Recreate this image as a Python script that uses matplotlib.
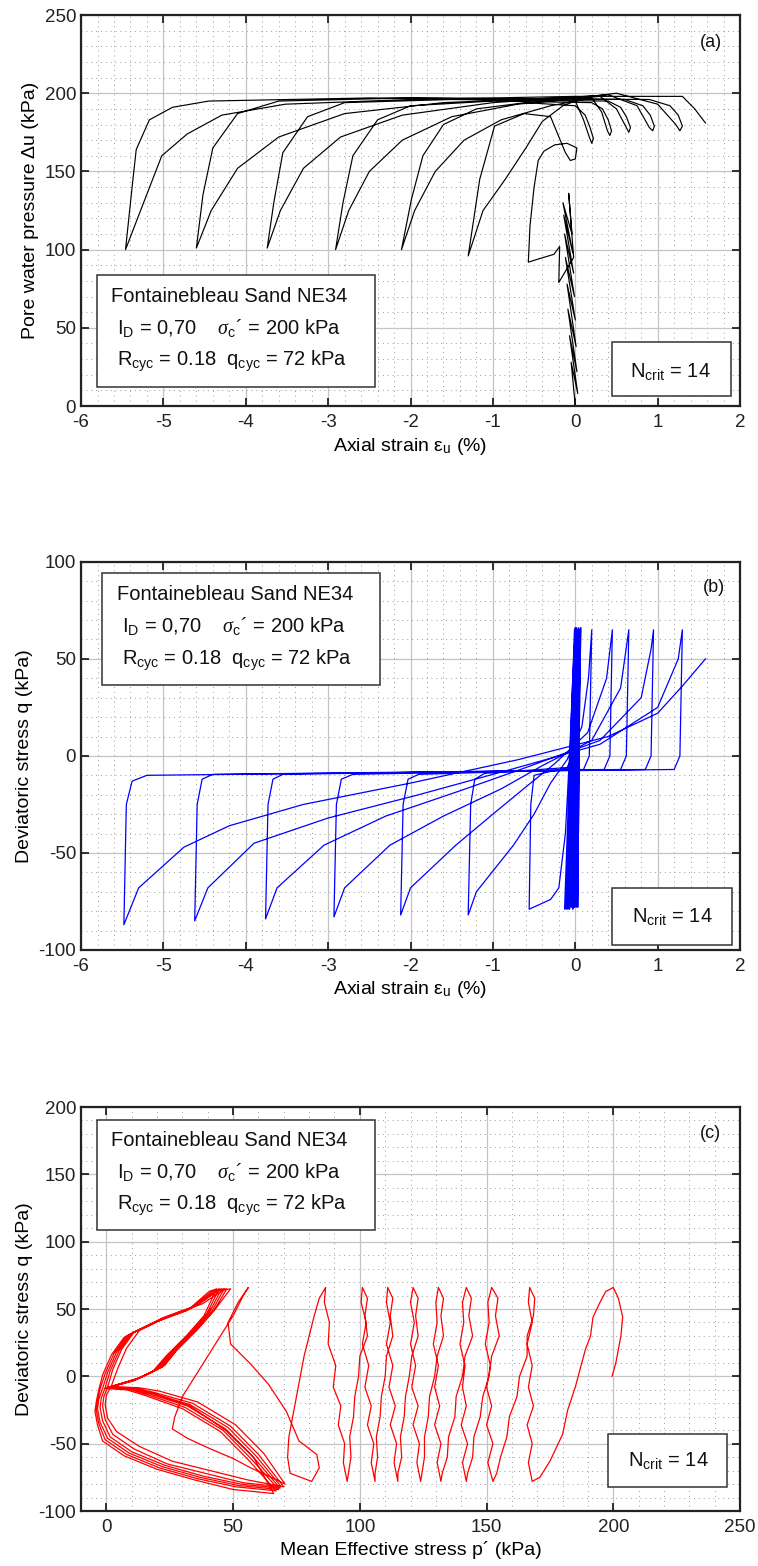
import matplotlib
matplotlib.use('Agg')
import matplotlib.pyplot as plt
from matplotlib.patches import Rectangle
from matplotlib.ticker import MultipleLocator

plt.rcParams['font.family'] = ['Liberation Sans', 'DejaVu Sans']
plt.rcParams['mathtext.fontset'] = 'custom'
plt.rcParams['mathtext.rm'] = 'Liberation Sans'
plt.rcParams['mathtext.it'] = 'Liberation Serif:italic'
plt.rcParams['mathtext.bf'] = 'Liberation Sans:bold'
plt.rcParams['axes.unicode_minus'] = False

# ---------------- data ----------------
# (a) pore pressure vs axial strain : first cycles near eps = 0
a_band_eps = [0.0, -0.05, 0.03, -0.07, 0.02, -0.09, 0.01, -0.10, 0.0, -0.12, -0.01, -0.13,
              -0.02, -0.14, -0.03, -0.15, -0.04, -0.08]
a_band_du = [0, 28, 8, 45, 22, 62, 38, 78, 55, 95, 70, 110, 85, 122, 98, 130, 110, 136]

# (a) large cycles: arrival at extension trough, then departure to compression peak
a_cyc_eps = [
    [-0.08, -0.02, -0.20, -0.19, -0.26, -0.45, -0.57, -0.55, -0.50, -0.45, -0.38, -0.25, -0.10, 0.02, 0.00, -0.06, -0.12],
    [-0.12, -0.30, -0.62, -0.98, -1.16, -1.30, -1.12, -0.85, -0.60, -0.40, -0.15, 0.00, 0.10, 0.17, 0.20, 0.22, 0.18, 0.12, 0.00],
    [0.00, -0.60, -1.20, -1.60, -1.85, -1.99, -2.11, -1.95, -1.70, -1.35, -0.90, -0.30, 0.20, 0.32, 0.39, 0.42, 0.44, 0.40, 0.33, 0.20],
    [0.20, -1.00, -2.00, -2.40, -2.70, -2.82, -2.91, -2.75, -2.50, -2.10, -1.50, -0.70, 0.30, 0.50, 0.62, 0.65, 0.67, 0.62, 0.55, 0.40],
    [0.40, -1.50, -2.80, -3.25, -3.55, -3.66, -3.74, -3.58, -3.30, -2.85, -2.10, -1.00, 0.40, 0.75, 0.90, 0.94, 0.96, 0.91, 0.82, 0.60],
    [0.60, -2.00, -3.60, -4.10, -4.40, -4.52, -4.60, -4.42, -4.10, -3.60, -2.80, -1.60, 0.20, 0.50, 1.00, 1.22, 1.27, 1.30, 1.25, 1.15, 0.90],
    [0.90, -2.50, -4.45, -4.89, -5.17, -5.33, -5.38, -5.46, -5.27, -5.02, -4.71, -4.29, -3.52, -2.00, 0.00, 1.30, 1.45, 1.58],
]
a_cyc_du = [
    [136, 95, 79, 102, 97, 94, 92, 115, 140, 157, 163, 167, 168, 165, 158, 157, 162],
    [162, 185, 187, 179, 145, 96, 125, 145, 165, 182, 192, 195, 183, 172, 168, 171, 178, 186, 192],
    [192, 194, 190, 180, 160, 132, 100, 125, 150, 170, 183, 192, 197, 188, 176, 173, 176, 183, 190, 194],
    [194, 195, 192, 183, 160, 130, 100, 125, 150, 170, 185, 193, 198, 190, 178, 175, 178, 185, 191, 195],
    [195, 196, 194, 185, 162, 130, 101, 125, 152, 172, 186, 194, 199, 192, 178, 176, 179, 186, 192, 196],
    [196, 197, 195, 187, 165, 135, 101, 125, 152, 172, 187, 194, 198, 200, 193, 180, 176, 179, 186, 192, 196],
    [196, 197, 195, 191, 183, 164, 140, 100, 126, 160, 174, 186, 193, 196, 198, 198, 190, 181],
]

# (b) deviatoric stress vs axial strain
b_band_eps = [0.00, 0.06, 0.03, 0.06, 0.01, 0.05, -0.01, 0.04, -0.03, 0.03, -0.05, 0.02,
              -0.07, 0.01, -0.09, 0.00, -0.11, -0.01, -0.13, 0.07]
b_band_q = [0, 65, -78, 66, -78, 65, -78, 66, -79, 65, -78, 66, -79, 66, -79, 66, -79, 65, -79, 66]

b_cyc_eps = [
    [0.07, 0.03, -0.05, -0.30, -0.50, -0.54, -0.56, -0.30, -0.20, -0.12, -0.07, -0.03, 0.00],
    [0.00, -0.03, -0.10, -1.10, -1.22, -1.27, -1.30, -1.20, -0.75, -0.50, -0.30, -0.10, 0.08, 0.16, 0.20],
    [0.20, 0.17, 0.10, -1.90, -2.03, -2.09, -2.12, -2.00, -1.45, -1.00, -0.60, -0.25, 0.15, 0.38, 0.45],
    [0.45, 0.42, 0.35, -2.70, -2.84, -2.90, -2.93, -2.80, -2.25, -1.60, -0.90, -0.40, 0.20, 0.55, 0.65],
    [0.65, 0.62, 0.55, -3.55, -3.67, -3.73, -3.76, -3.62, -3.05, -2.30, -1.40, -0.60, 0.30, 0.80, 0.92, 0.95],
    [0.95, 0.92, 0.85, -4.40, -4.53, -4.59, -4.62, -4.46, -3.90, -3.00, -1.90, -0.70, 0.30, 1.00, 1.25, 1.30],
    [1.30, 1.27, 1.20, -5.20, -5.38, -5.45, -5.48, -5.30, -4.75, -4.20, -3.30, -2.00, -0.70, 0.40, 1.00, 1.30, 1.58],
]
b_cyc_q = [
    [66, 0, -6, -8, -10, -25, -79, -74, -68, -40, 0, 40, 66],
    [66, 0, -6, -9, -12, -25, -82, -70, -46, -30, -14, -2, 15, 40, 65],
    [65, 0, -7, -9.5, -12, -25, -82, -68, -46, -30, -16, -4, 12, 40, 65],
    [65, 0, -7, -9.5, -12, -25, -83, -68, -46, -31, -17, -5, 8, 35, 65],
    [65, 0, -7, -9.5, -12, -25, -84, -68, -46, -31, -18, -6, 8, 30, 55, 65],
    [65, 0, -7, -9.5, -12, -25, -85, -68, -45, -32, -20, -6, 6, 25, 50, 65],
    [65, 0, -7, -10, -13, -25, -87, -68, -47, -36, -25, -14, -2, 10, 22, 36, 50],
]

# (c) deviatoric stress vs mean effective stress
c_start_p = [199.5, 201, 203, 203.7, 202, 200, 197, 194.5, 192, 191, 189, 185, 182, 180, 175, 171, 168]
c_start_q = [0, 10, 30, 44, 58, 66, 63, 54, 44, 30, 20, -8, -25, -43, -63, -75, -78]

leaf_up_q = [-64, -50, -36, -22, -8, 8, 24, 40, 55, 66]
leaf_down_q = [58, 45, 30, 15, 0, -15, -30, -45, -60, -72, -78]
leaf_up_p = [
    [166.5, 168, 166, 168.5, 166.5, 168, 166, 168, 166.5, 167],
    [150.5, 152.5, 150, 152, 150, 151.5, 149.5, 151, 150.5, 152],
    [140.5, 142.5, 140, 142, 140.5, 141.5, 139.5, 141, 140.5, 142],
    [130.5, 132, 129.5, 131.5, 129.5, 131, 129, 130.5, 130, 131],
    [122.5, 123.5, 121, 123, 120.5, 122, 120, 121.5, 120, 121],
    [113.5, 114.5, 112, 114, 111.5, 113, 110.5, 112, 110.5, 111],
    [104.5, 105.5, 103, 104.5, 102, 103.5, 101, 102.5, 100.5, 101],
    [93.5, 94, 91.5, 92.5, 89.5, 90.5, 87.5, 88, 86, 86.5],
]
leaf_down_p = [
    [169, 168.5, 166, 166, 163, 162, 159, 158, 155.5, 154, 152.5],
    [154.5, 153.5, 155, 152, 151, 148.5, 147.5, 145, 144.5, 142.5, 142],
    [144, 143, 144.5, 141.5, 140.5, 138, 137.5, 135, 134.5, 132.5, 132],
    [133, 132, 133, 130.5, 129.5, 127.5, 127, 125.5, 125.5, 124.5, 124],
    [123, 122, 123, 120.5, 119.5, 118, 117.5, 116, 116.5, 115, 115],
    [113, 112, 113, 110.5, 110, 108.5, 108, 106.5, 107, 106, 106],
    [103, 102, 103, 100, 99.5, 98, 97.5, 96, 96.5, 95.5, 95],
    [84, 82, 80, 78, 76.5, 75, 73.5, 72, 71.5, 72.5, 81],
]

c_trans_p = [84, 83, 76, 71, 64, 57, 49, 48, 52, 56, 54, 50, 45, 40, 35, 30, 27, 26, 32, 40, 50, 57, 64, 70.5]
c_trans_q = [-68, -58, -48, -26, -6, 9, 24, 40, 55, 66, 60, 45, 30, 15, 0, -15, -30, -39, -46, -53, -61, -68, -74, -80]

# butterfly cycles: unloading from trough to the cusp, compression loop, extension loop
bfly_p = [
    [62, 51, 36, 21, 13, 2, 13, 23, 28, 36, 43, 49, 46, 38, 25, 13, 8, 4.5, 2, 0, -0.5, 0.5, 4, 13, 26, 41, 56, 70],
    [60, 49, 34, 19, 12, 1.5, 12.5, 22, 27.5, 35.5, 42.5, 47.5, 44.5, 36, 23, 11, 6, 2.5, 0.5, -1, -1.5, -0.5, 2.5, 11, 24, 39, 54, 69],
    [59, 48, 33, 18, 11, 1, 12, 21, 26.5, 34.5, 41.5, 46.5, 43.5, 35, 22, 10, 5, 1.5, -0.5, -2, -2.5, -1.5, 1.5, 10, 23, 38, 53, 68.5],
    [58, 47, 32, 17, 10, 0.5, 11.5, 20, 25.5, 33.5, 40.5, 45.5, 42.5, 34, 21, 9, 4, 0.5, -1.5, -3, -3.5, -2.5, 0.5, 9, 22, 37, 52, 68],
    [57, 46, 31, 16, 9, 0, 11, 19, 24.5, 32.5, 39.5, 44.5, 41.5, 33, 20, 8, 3, -0.5, -2.5, -3.5, -4, -3, -0.5, 8, 21, 36, 51, 67],
    [56, 45, 30, 15, 8, -0.5, 10.5, 18, 23.5, 31.5, 38.5, 43.5, 40.5, 32, 19, 7, 2, -1.5, -3, -4, -4.5, -3.5, -1.5, 7, 20, 35, 50, 66],
]
bfly_q = [
    [-57, -36, -19, -11, -8.5, -7.5, -1, 8, 20, 35, 50, 65, 64, 54, 45, 34, 21, 6, -7, -14, -21, -31, -41, -52, -63, -70, -77, -82],
    [-58, -37, -20, -12, -9, -8, -1.5, 7, 19, 34, 49, 65, 64, 53, 44, 33, 20, 5, -8, -15, -22, -32, -43, -54, -65, -72, -79, -82],
    [-59, -38, -21, -12.5, -9, -8, -2, 6, 18, 33, 48, 65, 63.5, 52, 43, 32, 19, 4, -8.5, -16, -23, -33, -45, -56, -66, -74, -80, -83],
    [-60, -39, -22, -13, -9.5, -8.5, -2.5, 5, 17, 32, 47, 65, 63.5, 51, 42, 31, 18, 3, -9, -17, -24, -34, -46, -57, -67, -75, -81, -84],
    [-61, -40, -23, -13.5, -9.5, -8.5, -3, 4, 16, 31, 46, 65, 63, 50, 41, 30, 17, 2, -9.5, -18, -25, -35, -47, -58, -68, -76, -82, -85],
    [-62, -41, -24, -14, -10, -9, -3.5, 3, 15, 30, 45, 65, 63, 49, 40, 29, 16, 1, -10, -19, -26, -36, -48, -59, -69, -77, -84, -87],
]
c_end_p = [58, 47, 33, 19, 12, 1, 12, 22, 27, 35, 41]
c_end_q = [-60, -40, -22, -13, -9, -8, -2, 7, 19, 34, 50]

info_lines = ['Fontainebleau Sand NE34',
              r'I$_{\mathrm{D}}$ = 0,70    $\sigma_{\mathrm{c}}$´ = 200 kPa',
              r'R$_{\mathrm{cyc}}$ = 0.18  q$_{\mathrm{cyc}}$ = 72 kPa']
ncrit_label = r'N$_{\mathrm{crit}}$ = 14'

# join the pieces into one continuous path per panel
a_eps = a_band_eps + sum(a_cyc_eps, [])
a_du = a_band_du + sum(a_cyc_du, [])
b_eps = b_band_eps + sum(b_cyc_eps, [])
b_q = b_band_q + sum(b_cyc_q, [])
c_p = list(c_start_p)
c_q = list(c_start_q)
for up, down in zip(leaf_up_p, leaf_down_p):
    c_p += up + down
    c_q += leaf_up_q + leaf_down_q
c_p += c_trans_p + sum(bfly_p, []) + c_end_p
c_q += c_trans_q + sum(bfly_q, []) + c_end_q


def style_axes(ax, xlim, ylim, xmaj, xmin, ymaj, ymin):
    ax.set_xlim(*xlim)
    ax.set_ylim(*ylim)
    ax.xaxis.set_major_locator(MultipleLocator(xmaj))
    ax.xaxis.set_minor_locator(MultipleLocator(xmin))
    ax.yaxis.set_major_locator(MultipleLocator(ymaj))
    ax.yaxis.set_minor_locator(MultipleLocator(ymin))
    ax.grid(which='major', color='#c4c4c4', lw=0.9, ls='-')
    ax.grid(which='minor', color='#9c9c9c', lw=0.7, ls=(0, (1, 4)))
    ax.set_axisbelow(True)
    ax.tick_params(which='major', direction='in', top=True, right=True,
                   length=6, width=1.3, labelsize=13.5, colors='#222222')
    ax.tick_params(axis='x', which='major', pad=6)
    ax.tick_params(which='minor', length=0)
    for s in ax.spines.values():
        s.set_linewidth(1.6)
        s.set_color('#222222')


def add_boxes(ax, box, ys, ncbox, nctext, tag, tagpos):
    x0, y0, x1, y1 = box
    ax.add_patch(Rectangle((x0, y0), x1 - x0, y1 - y0, transform=ax.transAxes,
                           fc='white', ec='#333333', lw=1.1, zorder=5))
    xs = [x0 + 0.022, x0 + 0.03, x0 + 0.03]
    for txt, xx, yy in zip(info_lines, xs, ys):
        ax.text(xx, yy, txt, transform=ax.transAxes, fontsize=14.5,
                va='center', ha='left', zorder=6, color='#111111')
    nx0, ny0, nx1, ny1 = ncbox
    ax.add_patch(Rectangle((nx0, ny0), nx1 - nx0, ny1 - ny0, transform=ax.transAxes,
                           fc='white', ec='#333333', lw=1.1, zorder=5))
    ax.text(nctext[0], nctext[1], ncrit_label, transform=ax.transAxes, fontsize=14.5,
            va='center', ha='center', zorder=6, color='#111111')
    ax.text(tagpos[0], tagpos[1], tag, transform=ax.transAxes, fontsize=13,
            va='center', ha='center', zorder=6, color='#111111')


fig = plt.figure(figsize=(7.58, 15.66), dpi=100)

# ---- (a)
ax1 = fig.add_axes([0.1069, 0.7407, 0.8694, 0.2497])
ax1.plot(a_eps, a_du, color='black', lw=0.85)
style_axes(ax1, (-6, 2), (0, 250), 1, 0.2, 50, 10)
ax1.set_xlabel(r'Axial strain ε$_{\mathrm{u}}$ (%)', fontsize=14, labelpad=3)
ax1.set_ylabel('Pore water pressure Δu (kPa)', fontsize=14, labelpad=4)
add_boxes(ax1, (0.024, 0.049, 0.446, 0.335), (0.279, 0.199, 0.113),
          (0.805, 0.026, 0.986, 0.164), (0.895, 0.088), '(a)', (0.956, 0.93))

# ---- (b)
ax2 = fig.add_axes([0.1069, 0.3934, 0.8694, 0.2478])
ax2.plot(b_eps, b_q, color='#0000ff', lw=0.9)
style_axes(ax2, (-6, 2), (-100, 100), 1, 0.2, 50, 10)
ax2.set_xlabel(r'Axial strain ε$_{\mathrm{u}}$ (%)', fontsize=14, labelpad=3)
ax2.set_ylabel('Deviatoric stress q (kPa)', fontsize=14, labelpad=4)
add_boxes(ax2, (0.032, 0.683, 0.454, 0.972), (0.915, 0.835, 0.747),
          (0.806, 0.013, 0.988, 0.16), (0.897, 0.085), '(b)', (0.96, 0.935))

# ---- (c)
ax3 = fig.add_axes([0.1069, 0.0351, 0.8694, 0.258])
ax3.plot(c_p, c_q, color='#ff0000', lw=0.9)
style_axes(ax3, (-10, 250), (-100, 200), 50, 10, 50, 10)
ax3.set_xlabel('Mean Effective stress p´ (kPa)', fontsize=14, labelpad=3)
ax3.set_ylabel('Deviatoric stress q (kPa)', fontsize=14, labelpad=4)
add_boxes(ax3, (0.024, 0.696, 0.446, 0.968), (0.918, 0.839, 0.757),
          (0.80, 0.059, 0.98, 0.19), (0.891, 0.126), '(c)', (0.955, 0.935))

fig.savefig('out.png', dpi=100)
